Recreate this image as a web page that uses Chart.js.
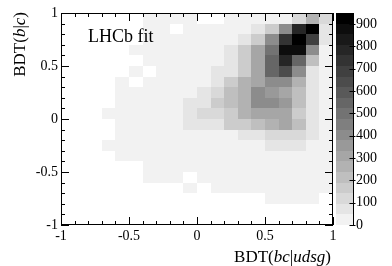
<!DOCTYPE html>
<html lang="en">
<head>
    <meta charset="UTF-8">
    <script src="https://cdn.jsdelivr.net/npm/chart.js"></script>
    <title>BDT(b|c) vs BDT(bc|udsg)</title>
    <style>
      body { margin: 0; background: #fff; }
    </style>
</head>
<body>
    <canvas id="myChart" width="392" height="266"></canvas>

    <script>
      // bin centres of the 20 x 20 histogram
      const xCenters = [-0.95, -0.85, -0.75, -0.65, -0.55, -0.45, -0.35, -0.25, -0.15, -0.05,
                        0.05, 0.15, 0.25, 0.35, 0.45, 0.55, 0.65, 0.75, 0.85, 0.95];
      const yCenters = [0.95, 0.85, 0.75, 0.65, 0.55, 0.45, 0.35, 0.25, 0.15, 0.05,
                        -0.05, -0.15, -0.25, -0.35, -0.45, -0.55, -0.65, -0.75, -0.85, -0.95];
      const binWidth = 0.1;

      // entries per bin, one row per yCenters value (top row first)
      const counts = [
        [0,0,0,0,0,0,20,20,20,20,   0,0,20,20,20,20,25,110,260,100],
        [0,0,0,0,0,0,20,20,0,20,    20,20,20,20,50,150,390,760,940,90],
        [0,0,0,0,0,0,20,20,20,20,   20,20,20,50,150,390,720,920,690,60],
        [0,0,0,0,0,20,20,20,20,20,  20,20,50,150,300,510,860,860,380,20],
        [0,0,0,0,0,0,20,20,20,20,   20,20,50,150,330,560,780,560,230,20],
        [0,0,0,0,0,20,0,20,20,20,   20,50,80,180,330,540,630,390,90,20],
        [0,0,0,0,20,0,20,20,20,20,  20,50,150,240,330,420,420,260,50,20],
        [0,0,0,0,20,20,20,20,20,20, 60,110,200,240,380,350,320,200,50,20],
        [0,0,0,0,20,20,20,20,20,60, 60,160,200,260,380,410,350,200,50,20],
        [0,0,0,20,20,20,20,20,20,60, 110,110,180,240,300,320,300,180,50,20],
        [0,0,0,0,20,20,20,20,20,60, 60,80,160,180,210,240,300,210,60,20],
        [0,0,0,0,20,20,20,20,20,20, 20,20,20,80,80,140,140,140,60,20],
        [0,0,0,20,20,20,20,20,20,20, 20,20,20,20,20,80,80,80,20,20],
        [0,0,0,0,20,20,20,20,20,20, 20,20,20,20,20,20,20,20,20,20],
        [0,0,0,0,0,0,20,20,20,20,   20,20,20,20,20,20,20,20,20,20],
        [0,0,0,0,0,0,20,20,20,0,    20,20,20,20,20,20,20,20,20,20],
        [0,0,0,0,0,0,0,0,0,20,      0,20,20,20,20,20,20,20,20,20],
        [0,0,0,0,0,0,0,0,0,0,       0,0,0,0,0,20,20,20,20,0],
        [0,0,0,0,0,0,0,0,0,0,       0,0,0,0,0,0,0,0,0,0],
        [0,0,0,0,0,0,0,0,0,0,       0,0,0,0,0,0,0,0,0,0]
      ];

      const axisTicks = [-1, -0.5, 0, 0.5, 1];
      const zTicks = [0, 100, 200, 300, 400, 500, 600, 700, 800, 900];
      const zMax = 950;
      const nLevels = 20;

      const SERIF = "'Liberation Serif', 'DejaVu Serif', serif";
      Chart.defaults.font.family = SERIF;
      Chart.defaults.color = '#000';

      let points = [];
      counts.forEach((row, r) => {
        row.forEach((v, c) => {
          if (v > 0) points.push({ x: xCenters[c], y: yCenters[r], v: v });
        });
      });

      function levelOf(v) {
        return Math.min(nLevels - 1, Math.floor(v / zMax * nLevels));
      }
      function grayOf(level) {
        const g = Math.round(242 * (1 - level / (nLevels - 1)));
        return 'rgb(' + g + ',' + g + ',' + g + ')';
      }

      // draw the bins with the x / y scales
      const heatmap = {
        id: 'heatmap',
        beforeDatasetsDraw(chart) {
          const ctx = chart.ctx;
          const xs = chart.scales.x, ys = chart.scales.y;
          ctx.save();
          chart.data.datasets[0].data.forEach(p => {
            const x0 = Math.round(xs.getPixelForValue(p.x - binWidth / 2));
            const x1 = Math.round(xs.getPixelForValue(p.x + binWidth / 2));
            const y0 = Math.round(ys.getPixelForValue(p.y + binWidth / 2));
            const y1 = Math.round(ys.getPixelForValue(p.y - binWidth / 2));
            ctx.fillStyle = grayOf(levelOf(p.v));
            ctx.fillRect(x0, y0, x1 - x0, y1 - y0);
          });

          // colour palette on the z scale
          const zs = chart.scales.z;
          const bx0 = zs.left + 3, bx1 = zs.left + 20;
          for (let k = 0; k < nLevels; k++) {
            const top = Math.round(zs.getPixelForValue((k + 1) * zMax / nLevels));
            const bot = Math.round(zs.getPixelForValue(k * zMax / nLevels));
            ctx.fillStyle = grayOf(k);
            ctx.fillRect(bx0, top, bx1 - bx0, bot - top);
          }
          ctx.restore();
        }
      };

      function drawRich(ctx, parts, x, y, size) {
        let total = 0;
        parts.forEach(p => {
          ctx.font = (p[1] ? 'italic ' : '') + size + 'px ' + SERIF;
          total += ctx.measureText(p[0]).width;
        });
        let cx = x - total;
        ctx.textAlign = 'left';
        parts.forEach(p => {
          ctx.font = (p[1] ? 'italic ' : '') + size + 'px ' + SERIF;
          ctx.fillText(p[0], cx, y);
          cx += ctx.measureText(p[0]).width;
        });
      }

      // frame, inside ticks, titles and label
      const frame = {
        id: 'frame',
        afterDraw(chart) {
          const ctx = chart.ctx;
          const a = chart.chartArea;
          const xs = chart.scales.x, ys = chart.scales.y, zs = chart.scales.z;
          ctx.save();
          ctx.strokeStyle = '#000';
          ctx.lineWidth = 1;
          ctx.strokeRect(a.left + 0.5, a.top + 0.5, a.right - a.left - 1, a.bottom - a.top - 1);

          ctx.beginPath();
          for (let i = -10; i <= 10; i++) {
            const len = (i % 5 === 0) ? 8 : 4;
            const px = Math.round(xs.getPixelForValue(i / 10)) + 0.5;
            ctx.moveTo(px, a.bottom); ctx.lineTo(px, a.bottom - len);
            ctx.moveTo(px, a.top); ctx.lineTo(px, a.top + len);
            const py = Math.round(ys.getPixelForValue(i / 10)) + 0.5;
            ctx.moveTo(a.left, py); ctx.lineTo(a.left + len, py);
            ctx.moveTo(a.right, py); ctx.lineTo(a.right - len, py);
          }
          // palette axis
          const ex = zs.left + 20.5;
          ctx.moveTo(ex, zs.top); ctx.lineTo(ex, zs.bottom);
          zTicks.forEach(v => {
            const py = Math.round(zs.getPixelForValue(v)) + 0.5;
            ctx.moveTo(ex - 4, py); ctx.lineTo(ex + 2, py);
          });
          ctx.stroke();

          ctx.fillStyle = '#000';
          ctx.textBaseline = 'alphabetic';
          drawRich(ctx, [['BDT(', false], ['bc', true], ['|', false], ['udsg', true], [')', false]],
                   a.right - 2, 262, 17);

          ctx.save();
          ctx.translate(25, a.top - 1);
          ctx.rotate(-Math.PI / 2);
          drawRich(ctx, [['BDT(', false], ['b', true], ['|', false], ['c', true], [')', false]], 0, 0, 17);
          ctx.restore();

          ctx.font = '18px ' + SERIF;
          ctx.textAlign = 'left';
          ctx.fillText('LHCb fit', 88, 42);
          ctx.restore();
        }
      };

      const fmt = v => String(v);
      const vFit = w => s => { s.width = w; s.paddingTop = 0; s.paddingBottom = 0; };

      const ctx = document.getElementById('myChart');
      new Chart(ctx, {
        type: 'scatter',
        data: {
          datasets: [{
            data: points,
            pointRadius: 0,
            pointHoverRadius: 0
          }]
        },
        options: {
          responsive: false,
          animation: false,
          events: [],
          layout: { padding: { left: 0, top: 13, right: 0, bottom: 0 } },
          plugins: { legend: { display: false }, tooltip: { enabled: false } },
          scales: {
            x: {
              type: 'linear', position: 'bottom', min: -1, max: 1,
              grid: { display: false, drawTicks: false },
              border: { display: false },
              afterBuildTicks: s => { s.ticks = axisTicks.map(v => ({ value: v })); },
              afterFit: s => { s.height = 41; s.paddingLeft = 0; s.paddingRight = 0; },
              ticks: { padding: 3, font: { size: 14 }, maxRotation: 0, autoSkip: false, callback: fmt }
            },
            y: {
              type: 'linear', position: 'left', min: -1, max: 1,
              grid: { display: false, drawTicks: false },
              border: { display: false },
              afterBuildTicks: s => { s.ticks = axisTicks.map(v => ({ value: v })); },
              afterFit: vFit(61),
              ticks: { padding: 3, font: { size: 14 }, autoSkip: false, callback: fmt }
            },
            z: {
              type: 'linear', position: 'right', min: 0, max: zMax, display: true,
              grid: { display: false, drawTicks: false },
              border: { display: false },
              afterBuildTicks: s => { s.ticks = zTicks.map(v => ({ value: v })); },
              afterFit: vFit(59),
              ticks: { padding: 23, font: { size: 14 }, autoSkip: false, callback: fmt }
            }
          }
        },
        plugins: [heatmap, frame]
      });
    </script>
</body>
</html>
